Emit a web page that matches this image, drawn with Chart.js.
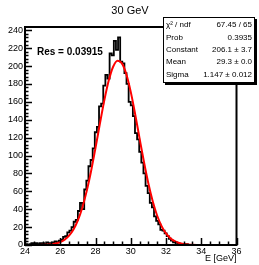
<!DOCTYPE html>
<html>
<head>
<meta charset="utf-8">
<script src="https://cdn.jsdelivr.net/npm/chart.js@4"></script>
<style>
  html, body { margin: 0; padding: 0; background: #fff; }
  canvas { display: block; }
</style>
</head>
<body>
<canvas id="chart" width="259" height="265"></canvas>
<script>
// histogram, 100 bins of 0.12 GeV starting at 24 GeV
const binLow = 24;
const binWidth = 0.12;
const counts = [
  0, 1, 0, 1, 2, 1, 2, 1, 2, 2,
  1, 3, 2, 2, 3, 4, 3, 5, 6, 9,
  10, 14, 16, 20, 26, 28, 38, 47, 40, 62,
  72, 88, 95, 108, 126, 132, 155, 158, 178, 190,
  186, 214, 212, 228, 218, 232, 205, 203, 192, 180,
  160, 156, 144, 125, 118, 104, 92, 80, 66, 58,
  47, 42, 32, 27, 23, 17, 16, 13, 10, 7,
  5, 3, 3, 2, 1, 1, 0, 1, 0, 0,
  0, 0, 0, 0, 0, 0, 0, 0, 0, 0,
  0, 0, 0, 0, 0, 0, 0, 0, 0, 0
];

// gaussian fit
const fitX = [
  24, 24.25, 24.5, 24.75, 25, 25.25, 25.5, 25.75, 26, 26.25, 26.5, 26.75,
  27, 27.25, 27.5, 27.75, 28, 28.25, 28.5, 28.75, 29, 29.25, 29.5, 29.75,
  30, 30.25, 30.5, 30.75, 31, 31.25, 31.5, 31.75, 32, 32.25, 32.5, 32.75,
  33, 33.25, 33.5, 33.75, 34, 34.25, 34.5, 34.75, 35, 35.25, 35.5
];
const fitY = [
  0, 0, 0, 0.1, 0.2, 0.4, 0.9, 1.7, 3.3, 6.0, 10.5, 17.4,
  27.6, 41.7, 60.2, 82.7, 108.5, 135.6, 161.6, 183.7, 199.2, 205.9, 203.0, 190.8,
  171.1, 146.3, 119.2, 92.7, 68.7, 48.6, 32.7, 21.1, 12.9, 7.6, 4.2, 2.2,
  1.1, 0.6, 0.3, 0.1, 0.05, 0, 0, 0, 0, 0, 0
];

const xTicks = [24, 26, 28, 30, 32, 34, 36];
const yTicks = [0, 20, 40, 60, 80, 100, 120, 140, 160, 180, 200, 220, 240];

const titleText = '30 GeV';
const xTitle = 'E [GeV]';
const resText = 'Res = 0.03915';
const statsLabels = ['\u03C7\u00B2 / ndf', 'Prob', 'Constant', 'Mean', 'Sigma'];
const statsValues = ['67.45 / 65', '0.3935', '206.1 \u00B1 3.7', '29.3 \u00B1 0.0', '1.147 \u00B1 0.012'];

const FONT = 'Liberation Sans, Arial, sans-serif';

const histPoints = counts.map((c, i) => ({ x: binLow + i * binWidth, y: c }));
histPoints.push({ x: binLow + counts.length * binWidth, y: counts[counts.length - 1] });
const fitPoints = fitX.map((x, i) => ({ x: x, y: fitY[i] }));

const rootStyle = {
  id: 'rootStyle',
  afterDatasetsDraw(chart) {
    const { ctx, chartArea: a } = chart;
    const xs = chart.scales.x, ys = chart.scales.y;
    ctx.save();
    ctx.strokeStyle = '#000';
    ctx.lineWidth = 2;
    ctx.strokeRect(a.left, a.top, a.right - a.left, a.bottom - a.top);

    ctx.lineWidth = 1.5;
    ctx.beginPath();
    // y ticks, drawn inwards
    for (let v = 0; v <= 240; v += 4) {
      const y = Math.round(ys.getPixelForValue(v)) + 0.5;
      const len = v % 20 === 0 ? 7 : 3.5;
      ctx.moveTo(a.left, y);
      ctx.lineTo(a.left + len, y);
    }
    // x ticks
    for (let v = 24; v <= 36; v += 0.5) {
      const x = Math.round(xs.getPixelForValue(v)) + 0.5;
      const len = v % 2 === 0 ? 7 : 3.5;
      ctx.moveTo(x, a.bottom);
      ctx.lineTo(x, a.bottom - len);
    }
    ctx.stroke();
    ctx.restore();
  },
  afterDraw(chart) {
    const { ctx, chartArea: a } = chart;
    ctx.save();
    ctx.fillStyle = '#000';

    ctx.font = '11px ' + FONT;
    ctx.textAlign = 'center';
    ctx.textBaseline = 'middle';
    ctx.fillText(titleText, 130, 11);

    ctx.font = '9px ' + FONT;
    ctx.textAlign = 'right';
    ctx.fillText(xTitle, a.right, 259);

    ctx.font = 'bold 10px ' + FONT;
    ctx.textAlign = 'left';
    ctx.fillText(resText, 37, 52);

    // stats box
    const bx = 163, by = 17, bw = 92, bh = 66;
    ctx.fillRect(bx + 2, by + 2, bw, bh);
    ctx.fillStyle = '#fff';
    ctx.fillRect(bx, by, bw, bh);
    ctx.strokeStyle = '#000';
    ctx.lineWidth = 1;
    ctx.strokeRect(bx + 0.5, by + 0.5, bw - 1, bh - 1);
    ctx.fillStyle = '#000';
    ctx.font = '8px ' + FONT;
    statsLabels.forEach((t, i) => {
      const y = 25 + i * 12.4;
      ctx.textAlign = 'left';
      ctx.fillText(t, bx + 3, y);
      ctx.textAlign = 'right';
      ctx.fillText(statsValues[i], bx + bw - 3, y);
    });
    ctx.restore();
  }
};

new Chart(document.getElementById('chart'), {
  type: 'line',
  data: {
    datasets: [
      {
        label: 'fit',
        data: fitPoints,
        borderColor: '#ff0000',
        borderWidth: 2,
        pointRadius: 0,
        cubicInterpolationMode: 'monotone',
        order: 0
      },
      {
        label: 'hist',
        data: histPoints,
        borderColor: '#000',
        borderWidth: 1.8,
        pointRadius: 0,
        stepped: 'after',
        order: 1
      }
    ]
  },
  options: {
    responsive: false,
    animation: false,
    layout: { padding: { top: 27, right: 22.5, left: 0, bottom: 0 } },
    plugins: { legend: { display: false }, tooltip: { enabled: false } },
    scales: {
      x: {
        type: 'linear',
        min: 24,
        max: 36,
        grid: { display: false, drawTicks: false, tickLength: 0 },
        border: { display: false },
        ticks: { color: '#000', font: { family: FONT, size: 9 }, padding: 1, maxRotation: 0, autoSkip: false },
        afterBuildTicks: (s) => { s.ticks = xTicks.map(v => ({ value: v })); },
        afterFit: (s) => { s.height = 20; }
      },
      y: {
        type: 'linear',
        min: 0,
        max: 243.6,
        grid: { display: false, drawTicks: false, tickLength: 0 },
        border: { display: false },
        ticks: { color: '#000', font: { family: FONT, size: 9 }, padding: 2 },
        afterBuildTicks: (s) => { s.ticks = yTicks.map(v => ({ value: v })); },
        afterFit: (s) => { s.width = 25; }
      }
    }
  },
  plugins: [rootStyle]
});
</script>
</body>
</html>
